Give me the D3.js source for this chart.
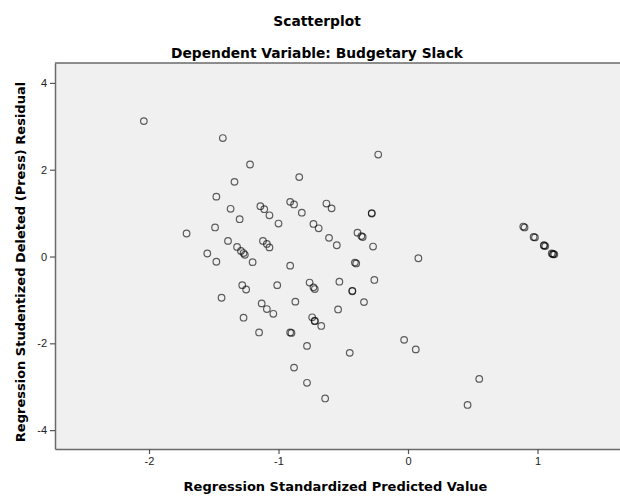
<!DOCTYPE html>
<html>
<head>
<meta charset="utf-8">
<script src="https://cdn.jsdelivr.net/npm/d3@7"></script>
<style>
  body { margin: 0; background: #fff; }
  text { font-family: "DejaVu Sans", sans-serif; }
</style>
</head>
<body>
<div id="chart"></div>
<script>
// regression standardized predicted value (x) and studentized deleted residual (y)
const predicted = [
  -2.04, -1.43, -1.22, -0.23, -0.84, -1.34, -1.48, -1.37, -1.14, -1.11,
  -1.07, -1.00, -1.30, -0.91, -0.88, -0.82, -0.63, -0.59, -0.28, -0.28,
  -1.49, -1.71, -0.73, -0.69, -0.61, -0.55, -0.39, -0.36, -0.35, -0.27,
  -1.39, -1.32, -1.29, -1.27, -1.26, -1.20, -1.12, -1.09, -1.07, -1.55,
  -1.48, -0.91, -0.41, -0.40, 0.08, -1.28, -1.25, -1.01, -0.76, -0.73,
  -0.72, -0.53, -0.43, -0.43, -0.26, -1.44, -1.13, -1.09, -1.04, -0.87,
  -0.34, -1.27, -0.74, -0.72, -0.72, -0.67, -0.54, -1.15, -0.91, -0.90,
  -0.78, -0.45, -0.03, 0.06, -0.88, -0.78, -0.64, 0.55, 0.46,
  0.89, 0.90, 0.97, 0.98, 1.05, 1.05, 1.06, 1.11, 1.12, 1.12, 1.13
]
const residual = [
  3.12, 2.73, 2.12, 2.35, 1.83, 1.72, 1.38, 1.10, 1.16, 1.09,
  0.95, 0.76, 0.86, 1.26, 1.20, 1.01, 1.22, 1.11, 1.00, 0.99,
  0.67, 0.53, 0.75, 0.65, 0.43, 0.26, 0.55, 0.47, 0.45, 0.23,
  0.36, 0.22, 0.13, 0.08, 0.04, -0.13, 0.36, 0.29, 0.21, 0.07,
  -0.12, -0.21, -0.14, -0.16, -0.04, -0.66, -0.76, -0.66, -0.60, -0.71,
  -0.75, -0.58, -0.79, -0.80, -0.54, -0.95, -1.08, -1.21, -1.32, -1.04,
  -1.05, -1.41, -1.40, -1.48, -1.49, -1.60, -1.22, -1.75, -1.75, -1.76,
  -2.06, -2.22, -1.92, -2.14, -2.56, -2.91, -3.27, -2.82, -3.42,
  0.69, 0.67, 0.45, 0.44, 0.26, 0.25, 0.24, 0.07, 0.06, 0.05, 0.05
]
const xTicks = [-2, -1, 0, 1]
const yTicks = [-4, -2, 0, 2, 4]

const title = 'Scatterplot'
const subtitle = 'Dependent Variable: Budgetary Slack'
const xLabel = 'Regression Standardized Predicted Value'
const yLabel = 'Regression Studentized Deleted (Press) Residual'

const W = 620, H = 496
const margin = {top: 63, right: 0, bottom: 47, left: 55}
const width = W - margin.left - margin.right
const height = H - margin.top - margin.bottom

const data = predicted.map(function(d, i) { return {x: d, y: residual[i]} })

// set the ranges
const x = d3.scaleLinear().domain([-2.726, 1.637]).range([0, width])
const y = d3.scaleLinear().domain([-4.435, 4.459]).range([height, 0])

const svg = d3.select('#chart').append('svg')
  .attr('width', W)
  .attr('height', H)

// titles
svg.append('text')
  .attr('x', 317).attr('y', 26)
  .attr('text-anchor', 'middle')
  .style('font-size', '13.8px').style('font-weight', 'bold')
  .text(title)

svg.append('text')
  .attr('x', 317).attr('y', 58)
  .attr('text-anchor', 'middle')
  .style('font-size', '13.8px').style('font-weight', 'bold')
  .text(subtitle)

const g = svg.append('g')
  .attr('transform', 'translate(' + margin.left + ',' + margin.top + ')')

// plot background
g.append('rect')
  .attr('width', width)
  .attr('height', height)
  .attr('fill', '#f0f0f0')

// top border
g.append('line')
  .attr('x1', 0).attr('x2', width)
  .attr('y1', 0).attr('y2', 0)
  .attr('stroke', '#6a6a6a').attr('stroke-width', 1.5)

// points
g.selectAll('circle')
  .data(data)
  .enter().append('circle')
  .attr('cx', function(d) { return x(d.x) })
  .attr('cy', function(d) { return y(d.y) })
  .attr('r', 3.3)
  .attr('fill', 'none')
  .attr('stroke', '#000')
  .attr('stroke-opacity', 0.62)
  .attr('stroke-width', 1.2)

// axes
const fmt = function(d) { return String(d) }
const xAxis = g.append('g')
  .attr('transform', 'translate(0,' + height + ')')
  .call(d3.axisBottom(x).tickValues(xTicks).tickFormat(fmt).tickSize(5).tickPadding(3).tickSizeOuter(0))

const yAxis = g.append('g')
  .call(d3.axisLeft(y).tickValues(yTicks).tickFormat(fmt).tickSize(5).tickPadding(3).tickSizeOuter(0))

;[xAxis, yAxis].forEach(function(a) {
  a.select('.domain').attr('stroke', '#6a6a6a').attr('stroke-width', 1.5)
  a.selectAll('.tick line').attr('stroke', '#555').attr('stroke-width', 1.2)
  a.selectAll('.tick text')
    .attr('fill', '#222')
    .style('font-family', '"Liberation Sans", Arial, sans-serif')
    .style('font-size', '11px')
})

// axis titles
svg.append('text')
  .attr('x', margin.left + width / 2 - 2).attr('y', 491)
  .attr('text-anchor', 'middle')
  .style('font-size', '13px').style('font-weight', 'bold')
  .text(xLabel)

svg.append('text')
  .attr('transform', 'translate(25,' + (margin.top + height / 2 + 6) + ') rotate(-90)')
  .attr('text-anchor', 'middle')
  .style('font-size', '13px').style('font-weight', 'bold')
  .text(yLabel)
</script>
</body>
</html>
